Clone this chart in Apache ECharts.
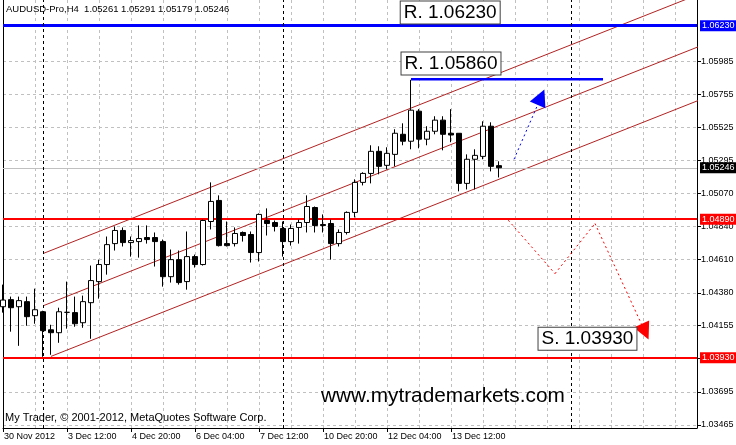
<!DOCTYPE html>
<html><head><meta charset="utf-8">
<script src="https://cdn.jsdelivr.net/npm/echarts@6/dist/echarts.min.js"></script>
<style>html,body{margin:0;padding:0;background:#fff}#c{width:736px;height:445px}</style>
</head><body><div id="c"></div>
<script>
// ---------- data ----------
const symbolName = 'AUDUSD-Pro,H4';
const openP  = [1.04284,1.04333,1.04284,1.04319,1.04222,1.04249,1.04124,1.04104,1.04245,1.04243,
                1.04173,1.04312,1.04458,1.04576,1.04721,1.04812,1.04728,1.04735,1.04763,1.04763,
                1.04735,1.04492,1.04610,1.04458,1.04631,1.04576,1.04874,1.05020,1.04721,1.04721,
                1.04798,1.04784,1.04659,1.04881,1.04867,1.04826,1.04735,1.04833,1.04867,1.04971,
                1.04853,1.04860,1.04721,1.04798,1.04937,1.05145,1.05207,1.05360,1.05263,1.05339,
                1.05478,1.05430,1.05638,1.05444,1.05499,1.05576,1.05485,1.05485,1.05138,1.05305,
                1.05325,1.05534,1.05261];
const highP  = [1.04437,1.04354,1.04354,1.04354,1.04409,1.04256,1.04159,1.04277,1.04458,1.04354,
                1.04361,1.04569,1.04610,1.04770,1.04840,1.04833,1.04770,1.04847,1.04847,1.04798,
                1.04749,1.04680,1.04673,1.04805,1.04645,1.04888,1.05145,1.05055,1.04874,1.04833,
                1.04805,1.04805,1.04930,1.04965,1.04881,1.04874,1.04853,1.04888,1.05055,1.04978,
                1.04923,1.04888,1.04819,1.04944,1.05166,1.05215,1.05402,1.05395,1.05388,1.05513,
                1.05554,1.05855,1.05652,1.05534,1.05603,1.05603,1.05652,1.05485,1.05339,1.05374,
                1.05568,1.05561,1.05291];
const lowP   = [1.04243,1.04111,1.04013,1.04152,1.04166,1.03937,1.03951,1.04034,1.04132,1.04145,
                1.04138,1.04062,1.04340,1.04506,1.04673,1.04701,1.04631,1.04624,1.04721,1.04562,
                1.04423,1.04451,1.04437,1.04402,1.04555,1.04569,1.04819,1.04701,1.04701,1.04701,
                1.04735,1.04590,1.04597,1.04777,1.04805,1.04631,1.04707,1.04721,1.04798,1.04798,
                1.04798,1.04610,1.04701,1.04784,1.04902,1.05124,1.05138,1.05201,1.05235,1.05256,
                1.05402,1.05374,1.05381,1.05402,1.05478,1.05367,1.05423,1.05083,1.05096,1.05096,
                1.05305,1.05221,1.05179];
const closeP = [1.04330,1.04277,1.04326,1.04215,1.04263,1.04118,1.04104,1.04249,1.04245,1.04166,
                1.04319,1.04465,1.04576,1.04714,1.04812,1.04728,1.04742,1.04756,1.04749,1.04735,
                1.04492,1.04610,1.04451,1.04631,1.04576,1.04881,1.05013,1.04707,1.04707,1.04791,
                1.04777,1.04659,1.04923,1.04860,1.04840,1.04735,1.04826,1.04867,1.04978,1.04846,
                1.04846,1.04721,1.04798,1.04937,1.05145,1.05207,1.05360,1.05256,1.05346,1.05485,
                1.05430,1.05645,1.05444,1.05499,1.05576,1.05478,1.05473,1.05138,1.05305,1.05332,
                1.05534,1.05256,1.05246];
const xTickIndex = [0, 8, 16, 24, 32, 40, 48, 56];
const xTickText  = ['30 Nov 2012','3 Dec 12:00','4 Dec 20:00','6 Dec 04:00','7 Dec 12:00','10 Dec 20:00','12 Dec 04:00','13 Dec 12:00'];
const yTickValues = [1.03465,1.03695,1.03930,1.04155,1.04380,1.04610,1.04840,1.05070,1.05295,1.05525,1.05755,1.05985];
const resistanceLevel = 1.06230;
const supportLevels = [1.04890, 1.03930];
const weekSeparators = [5, 35, 71];
const channelUpper  = [[5, 1.04652], [87, 1.06448]];
const channelMiddle = [[5, 1.04290], [87, 1.06086]];
const channelLower  = [[6, 1.03940], [87, 1.05714]];
const resistanceSegment = [[51, 1.05860], [75, 1.05860]];
const bluePath = [[63.875, 1.05305], [67.25, 1.05735]];
const redPath  = [[63.16, 1.04883], [69, 1.04513], [74, 1.04860], [80.25, 1.04111]];
const noteTexts = ['R. 1.06230', 'R. 1.05860', 'S. 1.03930'];
const noteAnchors = [[55.9, 1.06322], [56, 1.05968], [73.06, 1.04062]];

// ---------- chart ----------
const FONT = 'Liberation Sans';
const last = closeP.length - 1;
const lastClose = closeP[last];
const xMin = 0, xMax = 86.75, yMin = 1.03444, yMax = 1.06408;

const candles = openP.map((o, i) => [i, o, closeP[i], lowP[i], highP[i]]);

function levelLabel(bg) {
  return {show: true, position: 'end', distance: 3, formatter: p => p.value.toFixed(5),
    color: '#fff', backgroundColor: bg, fontSize: 9, fontFamily: FONT,
    padding: [1, 8, 0, 2], lineHeight: 10};
}
const dot = {type: [2, 3], width: 1};

function buildMarkLines(redRot, blueRot) {
  const out = [
    {yAxis: resistanceLevel, lineStyle: {color: '#0000ff', width: 3, type: 'solid'}, label: levelLabel('#0000ff')},
    {yAxis: supportLevels[0], lineStyle: {color: '#ff0000', width: 2, type: 'solid'}, label: levelLabel('#ff0000')},
    {yAxis: supportLevels[1], lineStyle: {color: '#ff0000', width: 2, type: 'solid'}, label: levelLabel('#ff0000')},
    {yAxis: lastClose, lineStyle: {color: '#c0c0c0', width: 1, type: 'solid'}, label: levelLabel('#000000')},
    ...weekSeparators.map(x => ({xAxis: x, lineStyle: {color: '#000', width: 1, type: [3, 3]}, label: {show: false}}))
  ];
  for (let k = 0; k < redPath.length - 1; k++) {
    const isLast = k === redPath.length - 2;
    out.push([
      {coord: redPath[k], symbol: 'none', lineStyle: Object.assign({color: '#ff0000'}, dot), label: {show: false}},
      {coord: redPath[k + 1], symbol: isLast ? 'triangle' : 'none', symbolSize: 17, symbolRotate: redRot}
    ]);
  }
  out.push([
    {coord: bluePath[0], symbol: 'none', lineStyle: Object.assign({color: '#0000ff'}, dot), label: {show: false}},
    {coord: bluePath[1], symbol: 'triangle', symbolSize: 17, symbolRotate: blueRot}
  ]);
  return out;
}

function chanSeries(d) {
  return {type: 'line', data: d, symbol: 'none', silent: true, clip: true,
    lineStyle: {color: '#b22222', width: 1}, z: 1};
}

function buildOption(redRot, blueRot) {
  return {
    animation: false,
    backgroundColor: '#ffffff',
    grid: {left: 3, right: 39, top: 0, bottom: 17, containLabel: false, outerBoundsMode: 'none'},
    xAxis: [
      {type: 'value', min: xMin, max: xMax, interval: 4,
       axisLine: {show: false}, axisTick: {show: false}, axisLabel: {show: false},
       splitLine: {show: true, lineStyle: {color: '#c0c0c0', type: [3, 3], width: 1}}},
      {type: 'value', position: 'bottom', min: xMin, max: xMax,
       axisLine: {show: true, onZero: false, lineStyle: {color: '#000', width: 1}},
       axisTick: {show: true, length: 4, customValues: xTickIndex, lineStyle: {color: '#000'}},
       axisLabel: {customValues: xTickIndex, formatter: v => xTickText[xTickIndex.indexOf(v)],
         align: 'left', margin: 4, color: '#000', fontSize: 9, fontFamily: FONT, padding: [0, 0, 0, 1]},
       splitLine: {show: false}}
    ],
    yAxis: [
      {type: 'value', position: 'right', min: yMin, max: yMax,
       axisLine: {show: true, onZero: false, lineStyle: {color: '#000', width: 1}},
       axisTick: {show: true, length: 4, customValues: yTickValues, lineStyle: {color: '#000'}},
       axisLabel: {customValues: yTickValues, formatter: v => v.toFixed(5), color: '#000',
         fontSize: 9, fontFamily: FONT, margin: 4},
       splitLine: {show: true, lineStyle: {color: '#c0c0c0', type: [3, 3], width: 1}}},
      {type: 'value', position: 'left', min: yMin, max: yMax,
       axisLine: {show: true, onZero: false, lineStyle: {color: '#000', width: 1}},
       axisTick: {show: false}, axisLabel: {show: false}, splitLine: {show: false}}
    ],
    graphic: [
      {type: 'text', left: 6, top: 4, z: 100,
       style: {text: symbolName + '  ' + [openP[last], highP[last], lowP[last], closeP[last]].map(v => v.toFixed(5)).join(' '),
         fill: '#000', font: '9.5px "' + FONT + '"'}},
      {type: 'text', left: 5, top: 412, z: 100,
       style: {text: 'My Trader, © 2001-2012, MetaQuotes Software Corp.', fill: '#000', font: '11px "' + FONT + '"'}},
      {type: 'text', left: 321, top: 386, z: 100,
       style: {text: 'www.mytrademarkets.com', fill: '#000', font: '20.8px "' + FONT + '"'}}
    ],
    series: [
      chanSeries(channelUpper),
      chanSeries(channelMiddle),
      chanSeries(channelLower),
      {type: 'line', data: resistanceSegment, symbol: 'none', silent: true,
       lineStyle: {color: '#0000ff', width: 2.5}, z: 3},
      {type: 'candlestick', data: candles, barWidth: 5, silent: true, z: 4,
       itemStyle: {color: '#ffffff', color0: '#000000', borderColor: '#000000', borderColor0: '#000000', borderWidth: 1},
       markLine: {silent: true, symbol: 'none', animation: false, precision: 5, data: buildMarkLines(redRot, blueRot), z: 3},
       markPoint: {silent: true, symbol: 'rect', symbolSize: 1, itemStyle: {color: 'rgba(0,0,0,0)'},
         data: noteTexts.map((t, i) => ({name: t, coord: noteAnchors[i], value: t})),
         label: {show: true, position: 'inside', formatter: p => p.name, color: '#000', fontSize: 19,
           fontFamily: FONT, backgroundColor: '#fff', borderColor: '#404040', borderWidth: 1,
           padding: [2, 3, 1, 3], lineHeight: 19}}
      }
    ]
  };
}
const chart = echarts.init(document.getElementById('c'), null, {renderer: 'canvas'});
chart.setOption(buildOption(0, 0));
// orient the arrowheads along their (pixel-space) segments
function headingDeg(a, b) {
  const p = chart.convertToPixel({seriesIndex: 4}, a);
  const q = chart.convertToPixel({seriesIndex: 4}, b);
  return Math.atan2(-(q[0] - p[0]), -(q[1] - p[1])) * 180 / Math.PI;
}
const n = redPath.length;
chart.setOption(buildOption(headingDeg(redPath[n - 2], redPath[n - 1]), headingDeg(bluePath[0], bluePath[1])), true);
</script></body></html>
